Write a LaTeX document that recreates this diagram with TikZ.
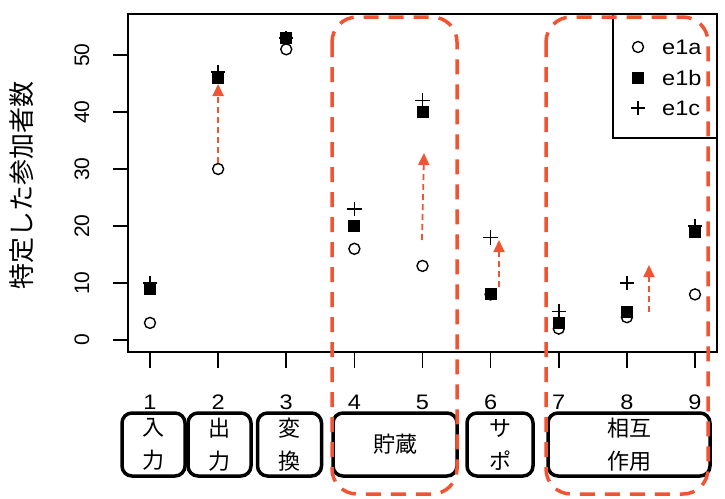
\documentclass[tikz,border=0pt]{standalone}
\usepackage{fontspec}
\setmainfont{Liberation Sans}
\newfontfamily\jp{Noto Sans CJK JP}
\usetikzlibrary{arrows.meta}
\definecolor{hl}{RGB}{240,84,50}
\begin{document}
\begin{tikzpicture}[x=1pt,y=-1pt,
  numlab/.style={font=\fontsize{21}{25}\selectfont, inner sep=0pt, xscale=1.12},
  ynumlab/.style={font=\fontsize{21}{25}\selectfont, inner sep=0pt, rotate=90},
  circmark/.style={circle, draw, line width=1.4pt, minimum size=11pt, inner sep=0pt},
  sqmark/.style={rectangle, fill=black, minimum size=12pt, inner sep=0pt},
  plusmark/.style={rectangle, minimum size=14pt, inner sep=0pt},
  plusline/.style={line width=1.6pt},
  catbox/.style={rectangle, draw, fill=white, line width=3.5pt, rounded corners=10pt,
     inner sep=0pt, minimum height=63pt, align=center,
     font=\jp\fontsize{22}{33}\selectfont},
  grpbox/.style={draw=hl, line width=3.5pt, dash pattern=on 15pt off 10pt, rounded corners=25pt},
  hlarrow/.style={draw=hl, line width=1.8pt, dash pattern=on 6pt off 4pt,
     -{Triangle[width=11pt,length=12pt,fill=hl]}},
  axisline/.style={line width=2pt},
  tickline/.style={line width=1.6pt}]
\useasboundingbox (0,0) rectangle (725,498);
\fill[white] (0,0) rectangle (725,498);

% plot frame
\draw[axisline] (128,14) rectangle (717,352);
% y ticks and labels
\foreach \v in {0,10,20,30,40,50} {
  \coordinate (yt\v) at (128,{340-5.7*\v});
  \coordinate (ys\v) at (113,{340-5.7*\v});
  \draw[tickline] (yt\v) -- (ys\v);
  \node[ynumlab] (yl\v) at (82,{340-5.7*\v}) {\v};
}
% x ticks and labels
\foreach \i in {1,...,9} {
  \coordinate (xt\i) at ({150+68.125*(\i-1)},352);
  \coordinate (xs\i) at ({150+68.125*(\i-1)},368);
  \draw[tickline] (xt\i) -- (xs\i);
  \node[numlab] (xl\i) at ({150+68.125*(\i-1)},402) {\i};
}
% y axis label
\node[rotate=90, inner sep=0pt, font=\jp\fontsize{26}{30}\selectfont] (ylabel) at (22,185) {特定した参加者数};

% data points
\foreach \i/\a/\b/\c in {1/3/9/10, 2/30/46/47, 3/51/53/53, 4/16/20/23, 5/13/40/42,
                          6/8/8/18, 7/2/3/5, 8/4/5/10, 9/8/19/20} {
  \node[circmark] (a\i) at ({150+68.125*(\i-1)},{340-5.7*\a}) {};
  \node[sqmark] (b\i) at ({150+68.125*(\i-1)},{340-5.7*\b}) {};
  \node[plusmark] (c\i) at ({150+68.125*(\i-1)},{340-5.7*\c}) {};
  \draw[plusline] (c\i.north) -- (c\i.south) (c\i.west) -- (c\i.east);
}

% legend
\node[rectangle, draw, line width=1.5pt, minimum width=104pt, minimum height=124pt, inner sep=0pt] (legend) at (665,76) {};
\node[circmark] (lga) at (638,47) {};
\node[sqmark] (lgb) at (638,78) {};
\node[plusmark] (lgc) at (638,108) {};
\draw[plusline] (lgc.north) -- (lgc.south) (lgc.west) -- (lgc.east);
\node[numlab, anchor=west] (lta) at (662,47) {e1a};
\node[numlab, anchor=west] (ltb) at (662,78) {e1b};
\node[numlab, anchor=west] (ltc) at (662,108) {e1c};

% category boxes
\node[catbox, minimum width=63pt] (k1) at (153.5,444.5) {入\\力};
\node[catbox, minimum width=63pt] (k2) at (219.5,444.5) {出\\力};
\node[catbox, minimum width=64pt] (k3) at (289.5,444.5) {変\\換};
\node[catbox, minimum width=124pt] (k4) at (395,444.5) {貯蔵};
\node[catbox, minimum width=66pt] (k5) at (500,444.5) {サ\\ポ};
\node[catbox, minimum width=162pt] (k6) at (629,444.5) {相互\\作用};

% group highlights
\draw[grpbox] (332,17) rectangle (457,494);
\draw[grpbox] (546,17) rectangle (708,494);

% arrows
\coordinate (s2) at (422,240);
\coordinate (e2) at (424,153);
\coordinate (s3) at (499,287);
\coordinate (e3) at (499,240);
\coordinate (s4) at (649,312);
\coordinate (e4) at (649,265);
\draw[hlarrow] (a2.north) -- (b2.south);
\draw[hlarrow] (s2) -- (e2);
\draw[hlarrow] (s3) -- (e3);
\draw[hlarrow] (s4) -- (e4);
\end{tikzpicture}
\end{document}
